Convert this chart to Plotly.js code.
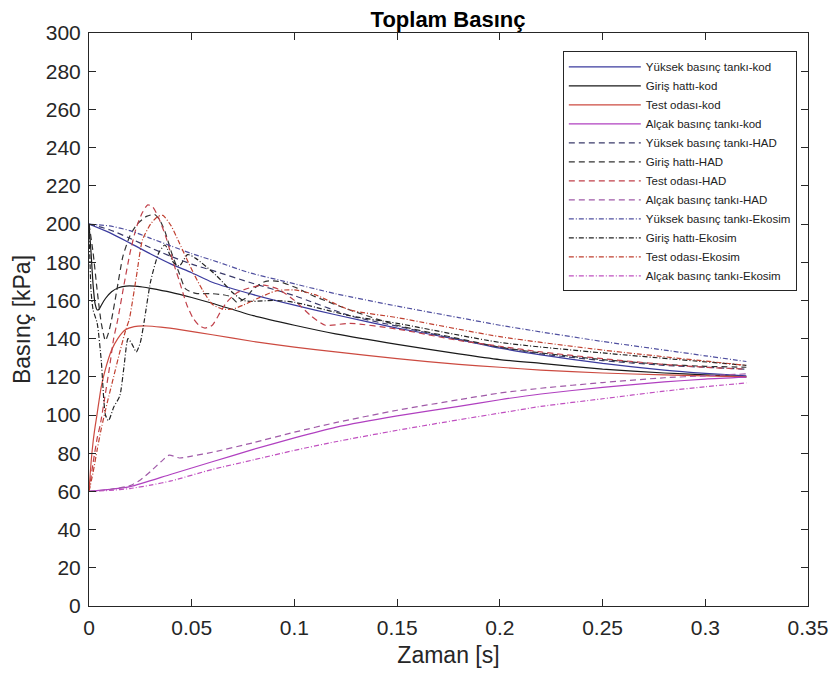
<!DOCTYPE html>
<html>
<head>
<meta charset="utf-8">
<script src="https://cdn.plot.ly/plotly-3.0.1.min.js"></script>
<style>html,body{margin:0;padding:0;background:#fff;}#chart{width:839px;height:680px;}</style>
</head>
<body>
<div id="chart"></div>
<script>
// ---- Series names ----
const names = [
  "Yüksek basınç tankı-kod", "Giriş hattı-kod", "Test odası-kod", "Alçak basınç tankı-kod",
  "Yüksek basınç tankı-HAD", "Giriş hattı-HAD", "Test odası-HAD", "Alçak basınç tankı-HAD",
  "Yüksek basınç tankı-Ekosim", "Giriş hattı-Ekosim", "Test odası-Ekosim", "Alçak basınç tankı-Ekosim"
];

// ---- kod ----
const tYuksekKod = [0,0.01,0.02,0.03,0.04,0.05,0.06,0.08,0.1,0.12,0.15,0.18,0.2,0.22,0.25,0.28,0.3,0.32];
const pYuksekKod = [200,195.5,190,184.3,179,174.5,169.5,163,157.5,152.5,145.5,139.5,135,131.5,127,123.5,121.8,120.5];

const tGirisKod = [0,0.001,0.002,0.003,0.004,0.005,0.006,0.008,0.011,0.014,0.018,0.022,0.026,0.03,0.04,0.05,0.06,0.08,0.1,0.12,0.15,0.18,0.2,0.22,0.25,0.28,0.3,0.32];
const pGirisKod = [200,185,168,158,155,155.5,157.5,161,164.5,166.5,167.5,167.5,167,166.3,164.2,161.5,158.5,152,147,142.5,137,132,129,127,124,122,121,120];

const tTestKod = [0,0.001,0.002,0.003,0.004,0.006,0.008,0.011,0.014,0.0175,0.022,0.028,0.035,0.045,0.06,0.08,0.1,0.12,0.15,0.18,0.2,0.22,0.25,0.28,0.3,0.32];
const pTestKod = [60,75,86,94,101,115,124,134,140,144.5,146.3,146.6,146,144.6,142,138.5,135.5,133,129.5,126.5,125,123.5,122,121,120.5,120];

const tAlcakKod = [0,0.02,0.04,0.06,0.08,0.1,0.12,0.15,0.18,0.2,0.22,0.25,0.28,0.3,0.32];
const pAlcakKod = [60,62.5,69,75.5,82,88,93.5,99.5,104.5,108,111,114.5,117.3,118.8,119.8];

// ---- HAD ----
const tYuksekHAD = [0,0.01,0.02,0.03,0.04,0.05,0.062,0.078,0.1,0.127,0.15,0.18,0.2,0.22,0.25,0.28,0.3,0.32];
const pYuksekHAD = [200,197,192.5,187.5,183,179,175,169.5,162.5,152,146.5,139.5,135.5,132,128.5,126,125,124];

const tGirisHAD = [0,0.002,0.004,0.006,0.008,0.0095,0.011,0.0135,0.0165,0.02,0.0235,0.028,0.032,0.0345,0.037,0.0405,0.044,0.047,0.052,0.06,0.065,0.069,0.072,0.076,0.08,0.086,0.092,0.1,0.11,0.127,0.15,0.18,0.2,0.22,0.25,0.28,0.3,0.32];
const pGirisHAD = [200,185,165,148,139,143,150,165,183,194,200,204,205,202,196,184,174,166,163.7,163.5,163,162,159,161,166,170,170,167,162,155,147,140,135.5,132.5,129,126.5,125.5,125];

const tTestHAD = [0,0.002,0.004,0.0055,0.0075,0.01,0.012,0.014,0.017,0.02,0.023,0.026,0.0286,0.031,0.034,0.0375,0.041,0.044,0.0475,0.0505,0.0535,0.0565,0.06,0.064,0.067,0.072,0.078,0.085,0.092,0.1,0.108,0.115,0.127,0.15,0.18,0.2,0.22,0.25,0.28,0.3,0.32];
const pTestHAD = [60,75,88,95,108,125,140,150,168,185,198,206,210,209,203,193,180,170,158,151,147,145.5,147,154,159,164,166.5,168,166,160,152,147,148,145,139,136,133,129.5,126.5,125,124];

const tAlcakHAD = [0,0.01,0.02,0.025,0.03,0.035,0.039,0.044,0.05,0.06,0.08,0.1,0.12,0.15,0.18,0.2,0.22,0.25,0.28,0.3,0.32];
const pAlcakHAD = [60,61,63,66,70.5,75.5,79,77.5,78.5,80.5,85.5,91,96,102.5,108,111.5,114,117,119.5,120.5,121.5];

// ---- Ekosim ----
const tYuksekEko = [0,0.005,0.01,0.02,0.03,0.04,0.05,0.063,0.078,0.095,0.12,0.15,0.18,0.2,0.22,0.25,0.28,0.3,0.32];
const pYuksekEko = [200,199.5,199,196.5,192.5,188.5,184.5,180,174.5,170,163.5,157,151,147,143.5,138.5,134,131,128];

const tGirisEko = [0,0.001,0.002,0.004,0.006,0.008,0.0095,0.012,0.015,0.017,0.019,0.021,0.023,0.025,0.027,0.03,0.034,0.037,0.041,0.044,0.048,0.052,0.062,0.07,0.075,0.08,0.09,0.1,0.127,0.15,0.2,0.25,0.32];
const pGirisEko = [200,165,155,148,128,100,97,104,110,125,140,137,133,138,150,170,185,189,180,178,184,182,173,164,160,159.5,160,159,152,148,138,132.5,126];

const tTestEko = [0,0.002,0.004,0.006,0.009,0.012,0.015,0.018,0.0196,0.023,0.026,0.03,0.0335,0.036,0.04,0.044,0.047,0.051,0.0553,0.06,0.065,0.07,0.075,0.082,0.091,0.1,0.11,0.127,0.15,0.2,0.25,0.32];
const pTestEko = [60,70,82,93,107,120,133,145,150,172,191.6,200,204,204.5,199,190,183,174,165.4,158,155.5,155.5,157.5,161,165,165.5,163,155,151,141,134,126];

const tAlcakEko = [0,0.01,0.02,0.03,0.04,0.06,0.08,0.1,0.12,0.15,0.18,0.2,0.22,0.25,0.28,0.3,0.32];
const pAlcakEko = [60,60.5,61.5,63.3,65.5,71.5,76.5,81.5,86,92,97.5,101,104.5,108.5,112.5,114.8,116.8];

const xs = [tYuksekKod,tGirisKod,tTestKod,tAlcakKod,tYuksekHAD,tGirisHAD,tTestHAD,tAlcakHAD,tYuksekEko,tGirisEko,tTestEko,tAlcakEko];
const ys = [pYuksekKod,pGirisKod,pTestKod,pAlcakKod,pYuksekHAD,pGirisHAD,pTestHAD,pAlcakHAD,pYuksekEko,pGirisEko,pTestEko,pAlcakEko];
const colors = ['#3b3b9e','#1a1a1a','#cc4a40','#b040c0','#3a3a6a','#333333','#c0404a','#a05aa8','#5050a0','#222222','#c04030','#c050c0'];
const DASH = '6px,4px', DASHDOT = '5px,2px,1px,2px';
const dashes = ['solid','solid','solid','solid',DASH,DASH,DASH,DASH,DASHDOT,DASHDOT,DASHDOT,DASHDOT];

const traces = names.map((n,i)=>({
  x: xs[i], y: ys[i], name: n, type:'scatter', mode:'lines',
  line:{color:colors[i], width:1.2, dash:dashes[i], shape:'spline', smoothing:0.6}
}));

const FAM = '"Liberation Sans",Arial,sans-serif';
const tickFont = {family:FAM, size:21, color:'#262626'};
const titleFont = {family:FAM, size:23, color:'#262626'};

const layout = {
  width:839, height:680,
  margin:{l:89, r:31, t:33, b:74},
  paper_bgcolor:'#fff', plot_bgcolor:'#fff',
  title:{text:'<b>Toplam Basınç</b>', x:0.534, xanchor:'center', y:0.972, yanchor:'middle',
         font:{family:FAM, size:22, color:'#000'}},
  xaxis:{range:[0,0.35], dtick:0.05, tick0:0, ticks:'inside', ticklen:7, tickcolor:'#262626',
         showline:true, linecolor:'#262626', linewidth:1, mirror:'ticks', showgrid:false, zeroline:false,
         ticklabelstandoff:3,
         tickfont:tickFont, title:{text:'Zaman [s]', font:titleFont, standoff:8}},
  yaxis:{range:[0,300], dtick:20, tick0:0, ticks:'inside', ticklen:7, tickcolor:'#262626',
         showline:true, linecolor:'#262626', linewidth:1, mirror:'ticks', showgrid:false, zeroline:false,
         ticklabelstandoff:3,
         tickfont:tickFont, title:{text:'Basınç [kPa]', font:titleFont, standoff:8}},
  legend:{x:0.659, y:0.968, xanchor:'left', yanchor:'top', bgcolor:'#fff', bordercolor:'#262626', borderwidth:1,
          font:{family:FAM, size:11.5, color:'#222'}, itemwidth:72, tracegroupgap:0},
  showlegend:true
};

Plotly.newPlot('chart', traces, layout, {displayModeBar:false, staticPlot:true});
</script>
</body>
</html>
